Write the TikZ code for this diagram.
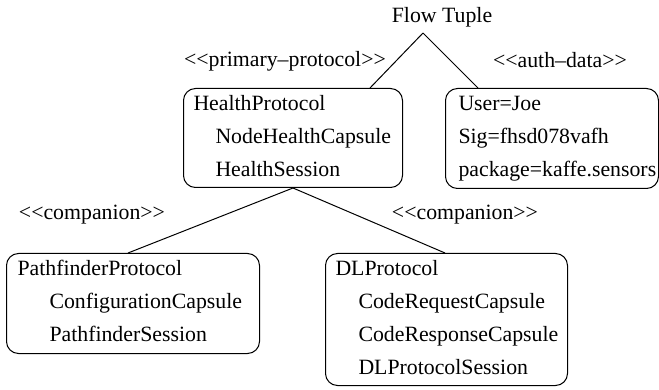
\documentclass[tikz,border=0pt]{standalone}
\usepackage{fontspec}
\setmainfont{Liberation Serif}
\usetikzlibrary{positioning, calc}

\newcommand{\stereotype}[1]{\textless\kern0pt\textless#1\textgreater\kern0pt\textgreater}

\begin{document}
\begin{tikzpicture}[x=1pt, y=-1pt, line width=1pt,
  every node/.style={font=\fontsize{21.8}{26}\selectfont, inner sep=0pt},
  protobox/.style={draw, rounded corners=12pt, anchor=north west},
  entry/.style={anchor=base west},
  stereo/.style={anchor=base}]
\useasboundingbox (0,0) rectangle (659,390);

% --- Root: flow tuple ---
\node[anchor=base] (tuple) at (442,23) {Flow Tuple};
\coordinate (apex) at (423,33);

% --- Primary protocol ---
\node[protobox, minimum width=219pt, minimum height=99pt] (health) at (183,88) {};
\foreach [count=\i] \txt/\dx in {HealthProtocol/10, NodeHealthCapsule/32, HealthSession/32}
  \node[entry] (health-\i) at ($(health.north west)+(\dx,{22.5+33*(\i-1)})$) {\txt};

% --- Auth data ---
\node[protobox, minimum width=213pt, minimum height=100pt] (auth) at (445,88) {};
\foreach [count=\i] \txt in {User=Joe, Sig=fhsd078vafh, package=kaffe.sensors}
  \node[entry] (auth-\i) at ($(auth.north west)+(13,{22.5+33*(\i-1)})$) {\txt};

% --- Companion: pathfinder ---
\node[protobox, minimum width=253pt, minimum height=100pt] (pathfinder) at (6,253) {};
\foreach [count=\i] \txt/\dx in {PathfinderProtocol/11, ConfigurationCapsule/43, PathfinderSession/43}
  \node[entry] (pathfinder-\i) at ($(pathfinder.north west)+(\dx,{22.5+33*(\i-1)})$) {\txt};

% --- Companion: DL ---
\node[protobox, minimum width=242pt, minimum height=132pt] (dl) at (325,253) {};
\foreach [count=\i] \txt/\dx in {DLProtocol/10, CodeRequestCapsule/33, CodeResponseCapsule/33, DLProtocolSession/33}
  \node[entry] (dl-\i) at ($(dl.north west)+(\dx,{22.5+33*(\i-1)})$) {\txt};

% --- Stereotype labels ---
\node[stereo] (lbl-primary) at (285,67) {\stereotype{primary\textendash protocol}};
\node[stereo] (lbl-auth) at (560,68) {\stereotype{auth\textendash data}};
\node[stereo] (lbl-comp-left) at (92,220) {\stereotype{companion}};
\node[stereo] (lbl-comp-right) at (465,220) {\stereotype{companion}};

% --- Connectors ---
\draw (apex) -- ($(health.north west)+(187,0)$);
\draw (apex) -- ($(auth.north west)+(33,0)$);
\draw (health.south) -- ($(pathfinder.north west)+(122,0)$);
\draw (health.south) -- ($(dl.north west)+(120,0)$);

\end{tikzpicture}
\end{document}
